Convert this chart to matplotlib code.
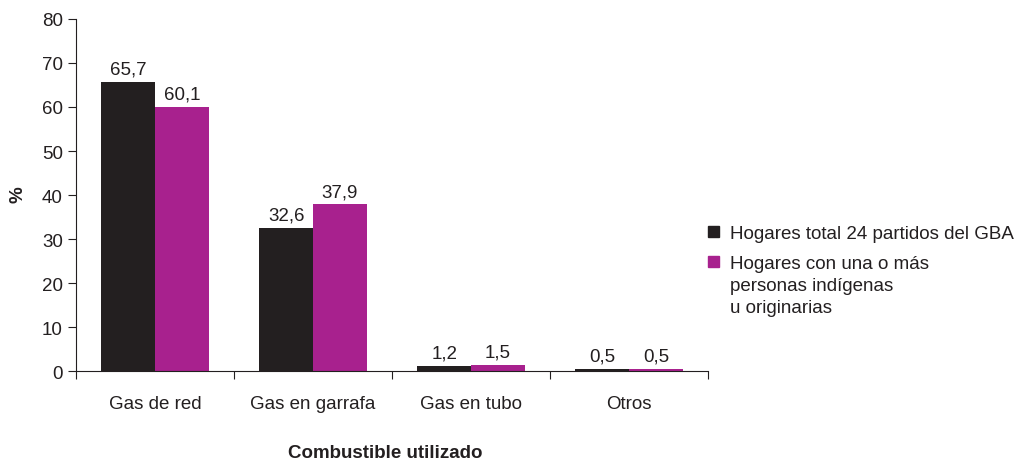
import numpy as np
import matplotlib.pyplot as plt
from matplotlib.patches import Rectangle

categorias = ['Gas de red', 'Gas en garrafa', 'Gas en tubo', 'Otros']
total_gba = [65.7, 32.6, 1.2, 0.5]
indigenas = [60.1, 37.9, 1.5, 0.5]
series = ['Hogares total 24 partidos del GBA',
          'Hogares con una o más\npersonas indígenas\nu originarias']
colores = ['#231f20', '#a8218e']

plt.rcParams['font.family'] = ['Liberation Sans', 'DejaVu Sans']
fs = 13.5

fig = plt.figure(figsize=(10.18, 4.64), dpi=100)
ax = fig.add_axes([0.0747, 0.198, 0.6208, 0.759])

x = np.arange(len(categorias))
w = 0.34
b1 = ax.bar(x - w/2, total_gba, w, color=colores[0])
b2 = ax.bar(x + w/2, indigenas, w, color=colores[1])

for bars in (b1, b2):
    for r in bars:
        v = r.get_height()
        ax.annotate(f'{v:.1f}'.replace('.', ','),
                    (r.get_x() + r.get_width()/2, v), xytext=(0, 3),
                    textcoords='offset points', ha='center', va='bottom',
                    fontsize=fs, color='#231f20')

ax.set_xlim(-0.5, 3.5)
ax.set_ylim(0, 80)
ax.set_yticks(range(0, 81, 10))
ax.set_xticks(np.arange(-0.5, 3.6, 1))
ax.set_xticklabels([])
ax.set_xticks(x, minor=True)
ax.set_xticklabels(categorias, minor=True)
ax.tick_params(axis='x', which='minor', length=0, pad=17, labelsize=fs, labelcolor='#231f20')
ax.tick_params(axis='x', which='major', length=6, color='#231f20')
ax.tick_params(axis='y', length=6, labelsize=fs, color='#231f20', labelcolor='#231f20')
for s in ['top', 'right']:
    ax.spines[s].set_visible(False)
for s in ['left', 'bottom']:
    ax.spines[s].set_color('#231f20')

fig.text(0.018, 0.58, '%', rotation=90, ha='center', va='center',
         fontsize=fs, fontweight='bold', color='#231f20')
fig.text(0.378, 6/464, 'Combustible utilizado', ha='center', va='baseline',
         fontsize=fs, fontweight='bold', color='#231f20')

# leyenda
ys = [232, 262]
for c, lab, yp in zip(colores, series, ys):
    fig.patches.append(Rectangle((708/1018, (464 - yp - 5.5)/464), 11/1018, 11/464,
                                 transform=fig.transFigure, color=c))
    for i, linea in enumerate(lab.split('\n')):
        fig.text(730/1018, (464 - yp - 7 - 22*i)/464, linea, ha='left', va='baseline',
                 fontsize=fs, color='#231f20')

fig.savefig('out.png', dpi=100)
